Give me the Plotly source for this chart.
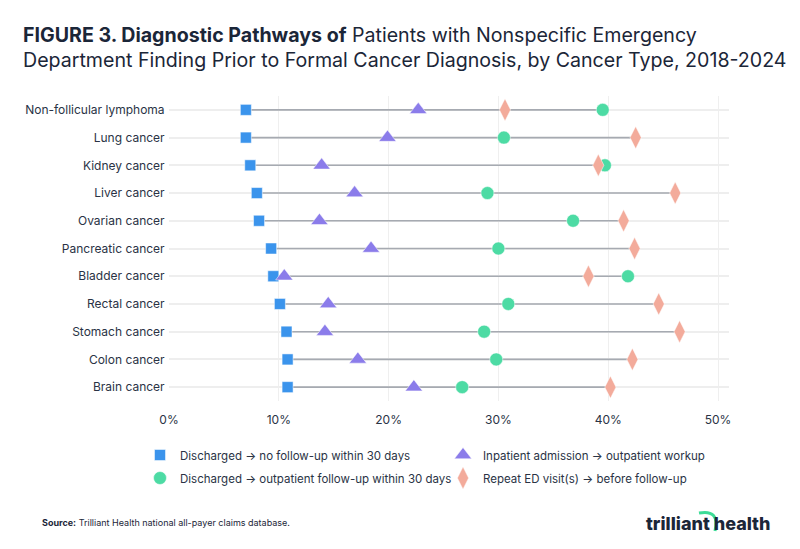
import plotly.graph_objects as go

categories = ["Non-follicular lymphoma", "Lung cancer", "Kidney cancer", "Liver cancer",
              "Ovarian cancer", "Pancreatic cancer", "Bladder cancer", "Rectal cancer",
              "Stomach cancer", "Colon cancer", "Brain cancer"]
no_followup = [7.0, 7.0, 7.4, 8.0, 8.2, 9.3, 9.5, 10.1, 10.7, 10.8, 10.8]
inpatient = [22.7, 19.9, 13.9, 16.9, 13.7, 18.4, 10.5, 14.5, 14.2, 17.2, 22.3]
outpatient = [39.5, 30.5, 39.7, 29.0, 36.8, 30.0, 41.8, 30.9, 28.7, 29.8, 26.7]
repeat_ed = [30.6, 42.5, 39.1, 46.1, 41.4, 42.4, 38.2, 44.6, 46.5, 42.2, 40.2]
x_ticks = [0, 10, 20, 30, 40, 50]
x_tick_labels = ["0%", "10%", "20%", "30%", "40%", "50%"]

series_names = ["Discharged → no follow-up within 30 days",
                "Inpatient admission → outpatient workup",
                "Discharged → outpatient follow-up within 30 days",
                "Repeat ED visit(s) → before follow-up"]

FONT = "Inter"
TXT = "#2a3345"

fig = go.Figure()

# range lines
lx, ly = [], []
for i, c in enumerate(categories):
    vals = [no_followup[i], inpatient[i], outpatient[i], repeat_ed[i]]
    lx += [min(vals), max(vals), None]
    ly += [c, c, None]
fig.add_trace(go.Scatter(x=lx, y=ly, mode="lines", line=dict(color="#a6aab1", width=1.6),
                         showlegend=False, hoverinfo="skip"))

fig.add_trace(go.Scatter(x=no_followup, y=categories, mode="markers", name=series_names[0],
                         marker=dict(symbol="square", size=11, color="#3b94ec",
                                     line=dict(color="white", width=0.5)), legend="legend"))
fig.add_trace(go.Scatter(x=inpatient, y=categories, mode="markers", name=series_names[1],
                         marker=dict(symbol="triangle-up", size=15, color="#8b7cea",
                                     line=dict(color="white", width=0.5)), legend="legend2"))
fig.add_trace(go.Scatter(x=outpatient, y=categories, mode="markers", name=series_names[2],
                         marker=dict(symbol="circle", size=13, color="#4ddba4",
                                     line=dict(color="white", width=0.5)), legend="legend3"))
fig.add_trace(go.Scatter(x=repeat_ed, y=categories, mode="markers", name=series_names[3],
                         marker=dict(symbol="diamond-tall", size=16, color="#f3ab9b",
                                     line=dict(color="white", width=0.5)), legend="legend4"))

H = 305.0
W = 560.0
def py(ypx):
    return (401 - ypx) / H
def px(xpx):
    return (xpx - 169) / W

def leg(x, y):
    return dict(x=x, y=y, xanchor="left", yanchor="middle", bgcolor="rgba(0,0,0,0)",
                font=dict(family=FONT, size=11.5, color=TXT), itemsizing="trace")

fig.update_layout(
    width=800, height=549,
    margin=dict(l=169, r=71, t=96, b=148),
    paper_bgcolor="white", plot_bgcolor="white",
    font=dict(family=FONT, color=TXT, size=12),
    xaxis=dict(range=[0, 51], tickmode="array", tickvals=x_ticks, ticktext=x_tick_labels,
               showgrid=True, gridcolor="#efefef", gridwidth=1, zeroline=False, showline=False,
               ticks="outside", ticklen=8, tickcolor="rgba(0,0,0,0)",
               tickfont=dict(family=FONT, size=12, color=TXT)),
    yaxis=dict(categoryorder="array", categoryarray=categories, range=[10.5, -0.5],
               showgrid=True, gridcolor="#eeeeee", gridwidth=2, zeroline=False, showline=False,
               ticks="outside", ticklen=1, tickcolor="rgba(0,0,0,0)",
               tickfont=dict(family=FONT, size=12, color=TXT)),
    legend=leg(px(140), py(455)),
    legend2=leg(px(443), py(455)),
    legend3=leg(px(140), py(478)),
    legend4=leg(px(443), py(478)),
    annotations=[
        dict(text="<b>FIGURE 3. Diagnostic Pathways of</b> Patients with Nonspecific Emergency<br>Department Finding Prior to Formal Cancer Diagnosis, by Cancer Type, 2018-2024",
             xref="paper", yref="paper", x=px(21), y=py(21), xanchor="left", yanchor="top",
             align="left", showarrow=False,
             font=dict(family=FONT, size=19.6, color="#1b2638")),
        dict(text="<b>Source:</b> Trilliant Health national all-payer claims database.",
             xref="paper", yref="paper", x=px(40), y=py(522), xanchor="left", yanchor="middle",
             showarrow=False, font=dict(family=FONT, size=9, color="#1b2638")),
        dict(text="trilliant health", xref="paper", yref="paper", x=px(772), y=py(523),
             xanchor="right", yanchor="middle", showarrow=False,
             font=dict(family=FONT, size=18, color="#1b2638", weight=800)),
    ],
    shapes=[
        dict(type="path", xref="paper", yref="paper",
             path=f"M {px(699)},{py(513)} Q {px(720)},{py(509)} {px(715)},{py(531)}",
             line=dict(color="#3ddc97", width=3)),
    ],
)

fig.write_html("out.html")
